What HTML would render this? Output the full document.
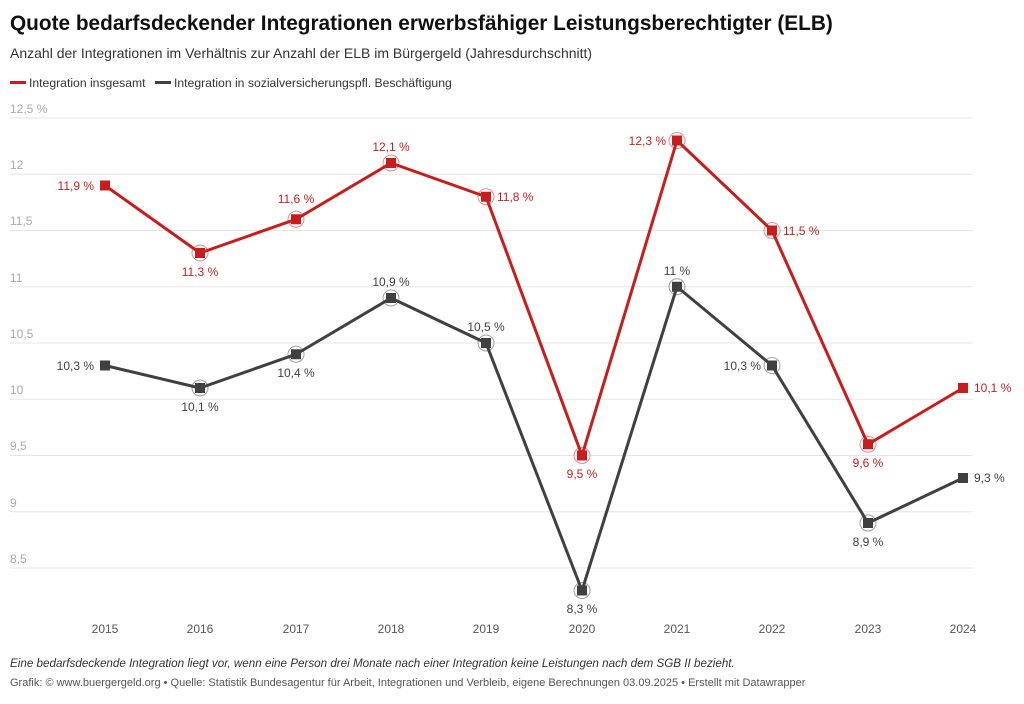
<!DOCTYPE html>
<html><head><meta charset="utf-8"><style>
body{margin:0;background:#fff;width:1024px;height:699px;overflow:hidden;font-family:"Liberation Sans",sans-serif}
</style></head><body>
<svg width="1024" height="699" xmlns="http://www.w3.org/2000/svg" font-family="Liberation Sans, sans-serif">
<text x="10" y="30" font-size="20.8" font-weight="bold" fill="#111">Quote bedarfsdeckender Integrationen erwerbsfähiger Leistungsberechtigter (ELB)</text>
<text x="10" y="58" font-size="14" fill="#333">Anzahl der Integrationen im Verhältnis zur Anzahl der ELB im Bürgergeld (Jahresdurchschnitt)</text>
<rect x="10" y="81" width="16" height="3" fill="#c71e1d"/>
<text x="29" y="87" font-size="12.2" fill="#333">Integration insgesamt</text>
<rect x="155" y="81" width="16" height="3" fill="#404040"/>
<text x="174" y="87" font-size="12.2" fill="#333">Integration in sozialversicherungspfl. Beschäftigung</text>
<g stroke="#e6e6e6" stroke-width="1">
<line x1="10" x2="973" y1="118" y2="118"/><line x1="10" x2="973" y1="174.25" y2="174.25"/><line x1="10" x2="973" y1="230.5" y2="230.5"/><line x1="10" x2="973" y1="286.75" y2="286.75"/><line x1="10" x2="973" y1="343" y2="343"/><line x1="10" x2="973" y1="399.25" y2="399.25"/><line x1="10" x2="973" y1="455.5" y2="455.5"/><line x1="10" x2="973" y1="511.75" y2="511.75"/><line x1="10" x2="973" y1="568" y2="568"/>
</g>
<g font-size="12" fill="#aaa">
<text x="10" y="113">12,5 %</text><text x="10" y="169">12</text><text x="10" y="225">11,5</text><text x="10" y="282">11</text><text x="10" y="338">10,5</text><text x="10" y="394">10</text><text x="10" y="450">9,5</text><text x="10" y="507">9</text><text x="10" y="563">8,5</text>
</g>
<g font-size="12" fill="#555" text-anchor="middle">
<text x="105" y="633">2015</text><text x="200" y="633">2016</text><text x="296" y="633">2017</text><text x="391" y="633">2018</text><text x="486" y="633">2019</text><text x="582" y="633">2020</text><text x="677" y="633">2021</text><text x="772" y="633">2022</text><text x="868" y="633">2023</text><text x="963" y="633">2024</text>
</g>
<polyline fill="none" stroke="#c71e1d" stroke-width="3" stroke-linejoin="round" points="105,185.5 200,253 296,219.25 391,163 486,196.75 582,455.5 677,140.5 772,230.5 868,444.25 963,388"/>
<polyline fill="none" stroke="#404040" stroke-width="3" stroke-linejoin="round" points="105,365.5 200,388 296,354.25 391,298 486,343 582,590.5 677,286.75 772,365.5 868,523 963,478"/>
<g fill="none" stroke="#c71e1d" stroke-opacity="0.5" stroke-width="1">
<circle cx="200" cy="253" r="8"/><circle cx="296" cy="219.25" r="8"/><circle cx="391" cy="163" r="8"/><circle cx="486" cy="196.75" r="8"/><circle cx="582" cy="455.5" r="8"/><circle cx="677" cy="140.5" r="8"/><circle cx="772" cy="230.5" r="8"/><circle cx="868" cy="444.25" r="8"/>
</g>
<g fill="none" stroke="#404040" stroke-opacity="0.5" stroke-width="1">
<circle cx="200" cy="388" r="8"/><circle cx="296" cy="354.25" r="8"/><circle cx="391" cy="298" r="8"/><circle cx="486" cy="343" r="8"/><circle cx="582" cy="590.5" r="8"/><circle cx="677" cy="286.75" r="8"/><circle cx="772" cy="365.5" r="8"/><circle cx="868" cy="523" r="8"/>
</g>
<g fill="#c71e1d">
<rect x="100" y="180.5" width="10" height="10"/><rect x="195" y="248" width="10" height="10"/><rect x="291" y="214.25" width="10" height="10"/><rect x="386" y="158" width="10" height="10"/><rect x="481" y="191.75" width="10" height="10"/><rect x="577" y="450.5" width="10" height="10"/><rect x="672" y="135.5" width="10" height="10"/><rect x="767" y="225.5" width="10" height="10"/><rect x="863" y="439.25" width="10" height="10"/><rect x="958" y="383" width="10" height="10"/>
</g>
<g fill="#404040">
<rect x="100" y="360.5" width="10" height="10"/><rect x="195" y="383" width="10" height="10"/><rect x="291" y="349.25" width="10" height="10"/><rect x="386" y="293" width="10" height="10"/><rect x="481" y="338" width="10" height="10"/><rect x="577" y="585.5" width="10" height="10"/><rect x="672" y="281.75" width="10" height="10"/><rect x="767" y="360.5" width="10" height="10"/><rect x="863" y="518" width="10" height="10"/><rect x="958" y="473" width="10" height="10"/>
</g>
<g font-size="12" fill="#c71e1d">
<text x="94" y="190" text-anchor="end">11,9 %</text>
<text x="200" y="276" text-anchor="middle">11,3 %</text>
<text x="296" y="203" text-anchor="middle">11,6 %</text>
<text x="391" y="151" text-anchor="middle">12,1 %</text>
<text x="497" y="201">11,8 %</text>
<text x="582" y="478" text-anchor="middle">9,5 %</text>
<text x="666" y="145" text-anchor="end">12,3 %</text>
<text x="783" y="235">11,5 %</text>
<text x="868" y="467" text-anchor="middle">9,6 %</text>
<text x="974" y="392">10,1 %</text>
</g>
<g font-size="12" fill="#404040">
<text x="94" y="370" text-anchor="end">10,3 %</text>
<text x="200" y="411" text-anchor="middle">10,1 %</text>
<text x="296" y="377" text-anchor="middle">10,4 %</text>
<text x="391" y="286" text-anchor="middle">10,9 %</text>
<text x="486" y="331" text-anchor="middle">10,5 %</text>
<text x="582" y="613" text-anchor="middle">8,3 %</text>
<text x="677" y="275" text-anchor="middle">11 %</text>
<text x="761" y="370" text-anchor="end">10,3 %</text>
<text x="868" y="546" text-anchor="middle">8,9 %</text>
<text x="974" y="482">9,3 %</text>
</g>
<text x="10" y="667" font-size="11.65" font-style="italic" fill="#333">Eine bedarfsdeckende Integration liegt vor, wenn eine Person drei Monate nach einer Integration keine Leistungen nach dem SGB II bezieht.</text>
<text x="10" y="686" font-size="11" fill="#555">Grafik: © www.buergergeld.org  • Quelle: Statistik Bundesagentur für Arbeit, Integrationen und Verbleib, eigene Berechnungen 03.09.2025 • Erstellt mit Datawrapper</text>
</svg>
</body></html>
